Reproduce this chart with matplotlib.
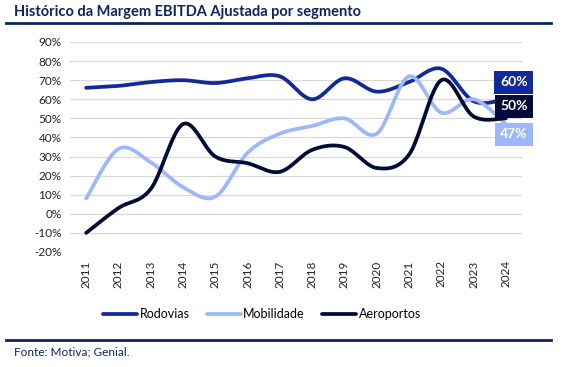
import matplotlib
matplotlib.use("Agg")
import matplotlib.pyplot as plt
from matplotlib import font_manager
import numpy as np

plt.rcParams['font.family'] = ['Lato', 'DejaVu Sans']

years = [2011, 2012, 2013, 2014, 2015, 2016, 2017, 2018, 2019, 2020, 2021, 2022, 2023, 2024]
rodovias = [66, 67, 69, 70, 68.5, 71, 72, 60, 71, 64, 69, 76, 59, 60]
mobilidade = [8, 34, 27, 14, 9, 32, 42, 46, 50, 42, 72, 53, 60, 47]
aeroportos = [-10, 3, 13, 47, 30, 26.5, 22, 33.5, 35, 24, 31, 70, 51, 50]

series_names = ['Rodovias', 'Mobilidade', 'Aeroportos']
colors = ['#12299a', '#9db8fa', '#020b35']
end_labels = ['60%', '50%', '47%']
navy = '#0c2461'

names = {f.name for f in font_manager.fontManager.ttflist}
if 'Liberation Sans Narrow' in names:
    title_font = dict(family=['Liberation Sans Narrow', 'DejaVu Sans'], fontsize=13)
else:
    title_font = dict(fontsize=10.5)


def smooth(x, y, n=24):
    # excel-like smoothed line (catmull-rom bezier)
    x = np.asarray(x, float)
    y = np.asarray(y, float)
    xs, ys = [], []
    for i in range(len(x) - 1):
        p0 = np.array([x[max(i - 1, 0)], y[max(i - 1, 0)]])
        p1 = np.array([x[i], y[i]])
        p2 = np.array([x[i + 1], y[i + 1]])
        p3 = np.array([x[min(i + 2, len(x) - 1)], y[min(i + 2, len(x) - 1)]])
        c1 = p1 + (p2 - p0) / 6
        c2 = p2 - (p3 - p1) / 6
        t = np.linspace(0, 1, n)[:, None]
        pts = (1 - t) ** 3 * p1 + 3 * (1 - t) ** 2 * t * c1 + 3 * (1 - t) * t ** 2 * c2 + t ** 3 * p2
        xs.extend(pts[:, 0])
        ys.extend(pts[:, 1])
    return xs, ys


fig = plt.figure(figsize=(5.64, 3.67), dpi=100)
ax = fig.add_axes([70 / 564, 1 - 252 / 367, 452 / 564, 210 / 367])

for vals, name, c in zip([rodovias, mobilidade, aeroportos], series_names, colors):
    sx, sy = smooth(years, vals)
    ax.plot(sx, sy, color=c, lw=2.7, label=name, solid_capstyle='round')

ax.set_xlim(2010.5, 2024.5)
ax.set_ylim(-20, 90)
ax.set_yticks(range(-20, 91, 10))
ax.set_yticklabels([f'{v}%' for v in range(-20, 91, 10)])
ax.set_xticks(years)
ax.set_xticklabels([str(y) for y in years], rotation=90)
ax.grid(axis='y', color='#d9d9d9', lw=0.9)
ax.set_axisbelow(True)
for s in ax.spines.values():
    s.set_visible(False)
ax.tick_params(length=0, labelsize=8.5, colors='#222222', pad=6)

# end value boxes
offsets = [(8, 17), (8, 12), (8, -10)]
for vals, lab, c, off in zip([rodovias, aeroportos, mobilidade], end_labels,
                             [colors[0], colors[2], colors[1]], offsets):
    ax.annotate(lab, (years[-1], vals[-1]), xytext=off, textcoords='offset pixels',
                ha='center', va='center', color='white', fontsize=10, fontweight='bold',
                bbox=dict(boxstyle='square,pad=0.4', fc=c, ec='none'), annotation_clip=False)

leg = fig.legend(loc='center', bbox_to_anchor=(262 / 564, 1 - 314 / 367), ncol=3, frameon=False,
                 fontsize=9, handlelength=2.7, handletextpad=0.2, columnspacing=1.4)

fig.text(14 / 564, 1 - 12 / 367, 'Histórico da Margem EBITDA Ajustada por segmento',
         fontweight='bold', color=navy, va='center', **title_font)
fig.add_artist(plt.Line2D([6 / 564, 551 / 564], [1 - 23 / 367, 1 - 23 / 367], color=navy, lw=2))
fig.add_artist(plt.Line2D([6 / 564, 551 / 564], [1 - 340 / 367, 1 - 340 / 367], color=navy, lw=2))
fig.text(14 / 564, 1 - 352 / 367, 'Fonte: Motiva; Genial.', fontsize=8.5, color=navy, va='center')

fig.savefig('out.png', dpi=100)
